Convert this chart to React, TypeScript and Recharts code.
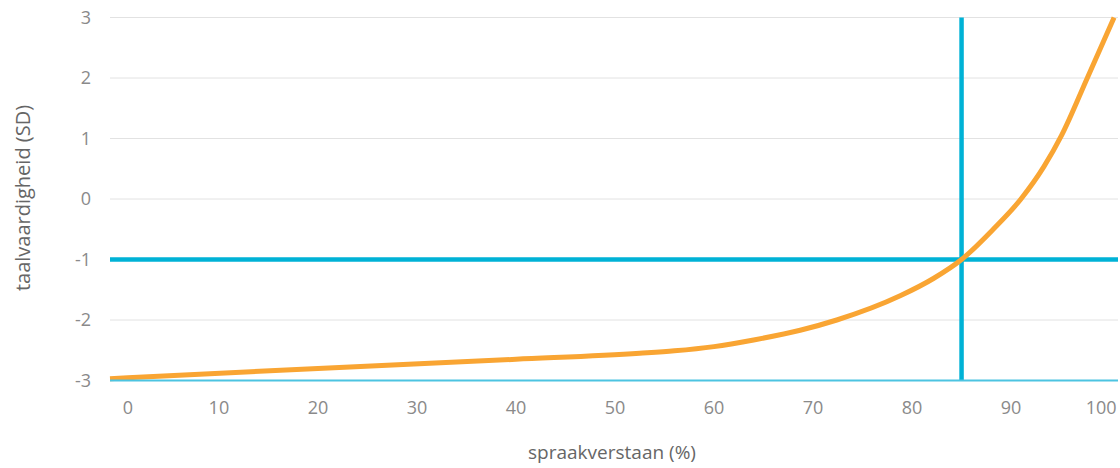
import React from 'react';
import { LineChart, Line, XAxis, YAxis, CartesianGrid, ReferenceLine, Label } from 'recharts';

// spraakverstaan (%) -> taalvaardigheid (SD)
const verstaan = [-1, 20, 40, 52.5, 56, 60, 64, 68.7, 72.4, 78.8, 82.2, 85, 88.2, 91, 93.3, 95.1, 97.7, 100.4];
const vaardigheid = [-2.97, -2.8, -2.65, -2.55, -2.51, -2.44, -2.33, -2.17, -2.0, -1.6, -1.31, -1.0, -0.5, 0, 0.53, 1.05, 2.0, 3.0];

const xTicks = [0, 10, 20, 30, 40, 50, 60, 70, 80, 90, 100];
const yTicks = [-3, -2, -1, 0, 1, 2, 3];

const grensVerstaan = 85;
const grensVaardigheid = -1;

const data = verstaan.map((x, i) => ({ x, y: vaardigheid[i] }));

const FONT = '"Open Sans", sans-serif';
const BLUE = '#00b2d6';
const ORANGE = '#f9a533';

const XTick = (props: any) => {
  const { x, y, payload } = props;
  // first and last labels are pulled inwards like the original
  let shift = 0;
  if (payload.value === 0) shift = 8;
  if (payload.value === 100) shift = -9;
  return (
    <text x={x + shift} y={y} dy="0.71em" textAnchor="middle" fill="#8a8a8a" fontSize={18} fontFamily={FONT}>
      {payload.value}
    </text>
  );
};

export default function App() {
  return (
    <div style={{ position: 'absolute', left: 0, top: 0 }}>
      <LineChart width={1120} height={468} data={data} margin={{ top: 17.5, right: 2, left: 0, bottom: 0 }}>
        <CartesianGrid vertical={false} stroke="#e2e2e2" strokeWidth={1} />
        <XAxis
          type="number"
          dataKey="x"
          domain={[-1, 100.8]}
          ticks={xTicks}
          height={87.5}
          axisLine={{ stroke: '#4cc4e1', strokeWidth: 2 }}
          tickLine={false}
          tickMargin={15}
          tick={<XTick />}
          interval={0}
        >
          <Label
            content={() => (
              <text x={612} y={452} textAnchor="middle" dominantBaseline="central" fill="#666" fontSize={19} fontFamily={FONT}>
                spraakverstaan (%)
              </text>
            )}
          />
        </XAxis>
        <YAxis
          type="number"
          domain={[-3, 3]}
          ticks={yTicks}
          width={110}
          axisLine={false}
          tickLine={false}
          tickMargin={13}
          tick={{ fill: '#8a8a8a', fontSize: 18, fontFamily: FONT }}
          interval={0}
        >
          <Label
            content={() => (
              <text x={22} y={198} transform="rotate(-90 22 198)" textAnchor="middle" dominantBaseline="central" fill="#666" fontSize={20} fontFamily={FONT}>
                taalvaardigheid (SD)
              </text>
            )}
          />
        </YAxis>
        <ReferenceLine y={grensVaardigheid} stroke={BLUE} strokeWidth={4.5} />
        <ReferenceLine x={grensVerstaan} stroke={BLUE} strokeWidth={4.5} />
        <Line
          type="monotone"
          dataKey="y"
          stroke={ORANGE}
          strokeWidth={5}
          dot={false}
          activeDot={false}
          isAnimationActive={false}
        />
      </LineChart>
    </div>
  );
}
